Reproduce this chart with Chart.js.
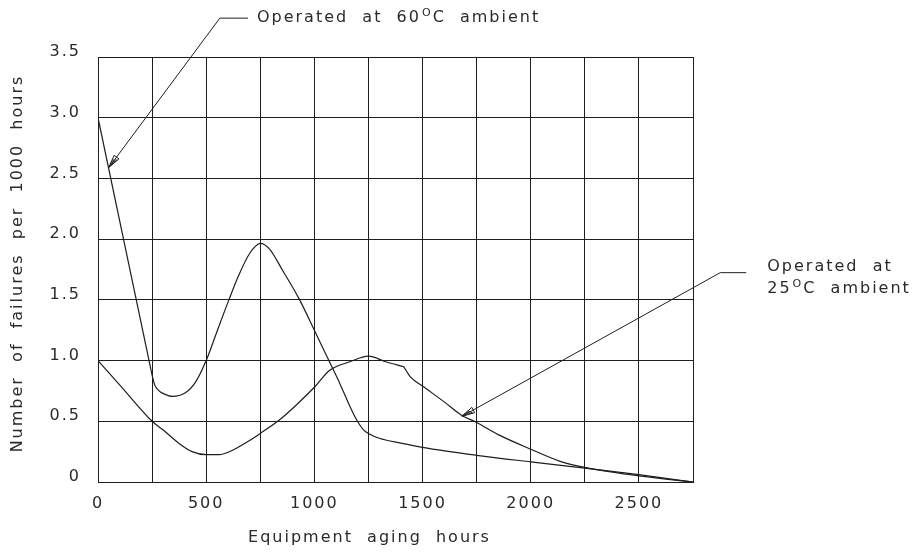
<!DOCTYPE html>
<html>
<head>
<meta charset="utf-8">
<script src="https://cdn.jsdelivr.net/npm/chart.js@4.4.0/dist/chart.umd.min.js"></script>
<style>
  html, body { margin: 0; background: #fff; }
  #wrap { width: 920px; height: 554px; }
</style>
</head>
<body>
<div id="wrap"><canvas id="failChart"></canvas></div>
<script>
/* values */
const hours60a = [0, 250];
const rate60a = [3.0, 0.88];
const hours60b = [250, 262, 280, 300, 345, 400, 450, 500, 550, 605, 650, 700, 750, 792, 854, 932, 1000, 1067, 1118, 1165, 1199, 1227, 1250, 1300, 1400, 1500, 1750, 2000, 2250, 2500, 2750];
const rate60b = [0.88, 0.80, 0.755, 0.73, 0.705, 0.73, 0.82, 1.0, 1.24, 1.5, 1.7, 1.88, 1.965, 1.92, 1.74, 1.5, 1.25, 1.0, 0.81, 0.62, 0.5, 0.43, 0.40, 0.36, 0.32, 0.285, 0.22, 0.166, 0.115, 0.06, 0];
const hours25a = [0, 100, 250, 300, 373, 435, 500, 560, 620, 699, 750, 838, 920, 1000, 1071, 1164, 1250, 1330, 1413];
const rate25a = [1.0, 0.8, 0.5, 0.43, 0.32, 0.25, 0.225, 0.225, 0.26, 0.34, 0.40, 0.51, 0.64, 0.78, 0.92, 0.99, 1.036, 0.99, 0.95];
const hours25b = [1413, 1444, 1500, 1600, 1680, 1750, 1850, 2000, 2136, 2250, 2500, 2750];
const rate25b = [0.95, 0.865, 0.79, 0.66, 0.55, 0.49, 0.39, 0.27, 0.17, 0.12, 0.05, 0];

const gridHours = [0, 250, 500, 750, 1000, 1250, 1500, 1750, 2000, 2250, 2500, 2750];
const labelHours = [0, 500, 1000, 1500, 2000, 2500];
const gridRates = [0, 0.5, 1.0, 1.5, 2.0, 2.5, 3.0, 3.5];

const xTitle = 'Equipment  aging  hours';
const yTitle = 'Number  of  failures  per  1000  hours';

const notes = [
  { tip: [50, 2.59], elbow: [563, 3.82], end: [693, 3.82], gap: 9,
    lines: [[{ t: 'Operated  at  60' }, { t: 'O', sup: true }, { t: 'C  ambient' }]] },
  { tip: [1682, 0.541], elbow: [2876, 1.724], end: [2996, 1.724], gap: 21,
    lines: [[{ t: 'Operated  at' }], [{ t: '25' }, { t: 'O', sup: true }, { t: 'C  ambient' }]] }
];

const ink = '#1e1e1e';
const FONT = '"DejaVu Sans", sans-serif';

function pts(xs, ys) {
  return xs.map((v, i) => ({ x: v, y: ys[i] }));
}

function drawParts(ctx, parts, x, yMid) {
  parts.forEach(p => {
    if (p.sup) {
      ctx.font = '11px ' + FONT;
      ctx.fillText(p.t, x + 1, yMid - 5);
      x += ctx.measureText(p.t).width + 1;
    } else {
      ctx.font = '16px ' + FONT;
      ctx.fillText(p.t, x, yMid);
      x += ctx.measureText(p.t).width;
    }
  });
}

function arrowHead(ctx, tx, ty, ex, ey) {
  const len = Math.hypot(ex - tx, ey - ty);
  const ux = (ex - tx) / len, uy = (ey - ty) / len;
  const nx = -uy, ny = ux;
  const L = 13, W = 6;
  ctx.beginPath();
  ctx.moveTo(tx, ty);
  ctx.lineTo(tx + ux * L + nx * W / 2, ty + uy * L + ny * W / 2);
  ctx.lineTo(tx + ux * L - nx * W / 2, ty + uy * L - ny * W / 2);
  ctx.closePath();
  ctx.stroke();
  // hatching
  for (let k = 0; k < 4; k++) {
    const d = L * (0.35 + k * 0.17);
    const w = W / 2 * d / L;
    ctx.beginPath();
    ctx.moveTo(tx + ux * d + nx * w, ty + uy * d + ny * w);
    ctx.lineTo(tx + ux * (d - 3.5) - nx * w * 0.8, ty + uy * (d - 3.5) - ny * w * 0.8);
    ctx.stroke();
  }
}

const notePlugin = {
  id: 'notes',
  beforeDraw(chart) {
    chart.ctx.letterSpacing = '2px';
  },
  afterDraw(chart) {
    const { ctx, scales: { x, y }, chartArea: a } = chart;
    ctx.save();
    ctx.letterSpacing = '2px';
    ctx.strokeStyle = ink;
    ctx.fillStyle = '#2a2a2a';
    ctx.lineWidth = 1;
    ctx.textBaseline = 'middle';
    ctx.textAlign = 'left';

    notes.forEach(n => {
      const tx = x.getPixelForValue(n.tip[0]), ty = y.getPixelForValue(n.tip[1]);
      const ex = x.getPixelForValue(n.elbow[0]), ey = y.getPixelForValue(n.elbow[1]);
      const hx = x.getPixelForValue(n.end[0]);
      ctx.beginPath();
      ctx.moveTo(tx, ty);
      ctx.lineTo(ex, ey);
      ctx.lineTo(hx, ey);
      ctx.stroke();
      arrowHead(ctx, tx, ty, ex, ey);
      const first = n.lines.length === 1 ? ey : ey - 6;
      n.lines.forEach((line, i) => drawParts(ctx, line, hx + n.gap, first + i * 22.5));
    });

    // axis titles
    ctx.font = '16px ' + FONT;
    ctx.textAlign = 'center';
    ctx.fillText(xTitle, (a.left + a.right) / 2 - 26, a.bottom + 56);
    ctx.translate(18, (a.top + a.bottom) / 2 - 6);
    ctx.rotate(-Math.PI / 2);
    ctx.fillText(yTitle, 0, 0);
    ctx.restore();
  }
};

const lineStyle = {
  borderColor: ink,
  borderWidth: 1.2,
  pointRadius: 0,
  fill: false,
  cubicInterpolationMode: 'monotone'
};

new Chart(document.getElementById('failChart'), {
  type: 'line',
  data: {
    datasets: [
      { ...lineStyle, label: '60C', data: pts(hours60a, rate60a), cubicInterpolationMode: 'default', tension: 0 },
      { ...lineStyle, label: '60C', data: pts(hours60b, rate60b) },
      { ...lineStyle, label: '25C', data: pts(hours25a, rate25a) },
      { ...lineStyle, label: '25C', data: pts(hours25b, rate25b) }
    ]
  },
  options: {
    responsive: true,
    maintainAspectRatio: false,
    animation: false,
    layout: { padding: { top: 57, right: 227, bottom: 0, left: 0 } },
    plugins: { legend: { display: false }, tooltip: { enabled: false } },
    scales: {
      x: {
        type: 'linear',
        min: 0,
        max: 2750,
        afterBuildTicks: s => { s.ticks = gridHours.map(v => ({ value: v })); },
        afterFit: s => { s.height = 72; },
        ticks: {
          autoSkip: false,
          maxRotation: 0,
          padding: 12,
          color: '#2a2a2a',
          font: { family: FONT, size: 16 },
          callback: v => labelHours.includes(v) ? String(v) : ''
        },
        grid: { color: ink, lineWidth: 1, drawTicks: false },
        border: { color: ink, width: 1 }
      },
      y: {
        min: 0,
        max: 3.5,
        afterBuildTicks: s => { s.ticks = gridRates.map(v => ({ value: v })); },
        afterFit: s => { s.width = 98; },
        ticks: {
          padding: 17,
          labelOffset: -5,
          color: '#2a2a2a',
          font: { family: FONT, size: 16 },
          callback: v => v === 0 ? '0' : v.toFixed(1)
        },
        grid: { color: ink, lineWidth: 1, drawTicks: false },
        border: { color: ink, width: 1 }
      }
    }
  },
  plugins: [notePlugin]
});
</script>
</body>
</html>
